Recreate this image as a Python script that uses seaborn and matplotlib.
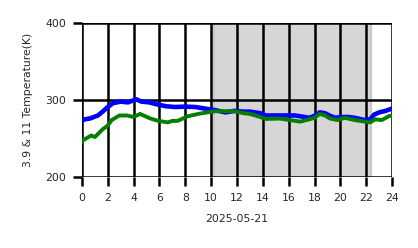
import matplotlib
matplotlib.use("Agg")
import matplotlib.pyplot as plt
import seaborn as sns
import pandas as pd

# data (hours of 2025-05-21, brightness temperature in K)
blue_hours = [0.0, 0.2, 0.6, 1.24, 1.6, 2.0, 2.4, 3.0, 3.56, 4.2, 4.6, 5.2, 5.9, 6.5, 7.2,
              8.0, 8.75, 9.5, 10.3, 11.1, 11.8, 12.5, 13.0, 13.8, 14.2, 15.3, 16.5, 17.6,
              18.0, 18.4, 18.8, 19.2, 19.6, 20.1, 20.6, 21.1, 21.9, 22.3, 22.6, 23.0, 23.5, 24.0]
blue_temp = [273, 275, 276, 280, 285, 291, 296, 298, 297, 301, 298, 297, 294, 292, 291,
             291.5, 291, 289, 287, 284, 286, 285, 285, 283, 280, 280, 280, 277,
             279.5, 284, 283, 279.5, 277, 278, 278, 277, 274, 275, 281, 284, 286, 289]
green_hours = [0.0, 0.1, 0.72, 1.0, 1.24, 1.6, 2.0, 2.3, 2.9, 3.5, 4.0, 4.5, 5.3, 5.9, 6.65,
               7.0, 7.4, 8.2, 9.0, 9.5, 10.3, 11.8, 12.5, 13.0, 13.8, 14.2, 15.3, 16.1, 16.9,
               17.6, 18.0, 18.4, 18.8, 19.2, 19.8, 20.35, 21.1, 21.9, 22.3, 22.7, 23.2, 23.8, 24.0]
green_temp = [246, 248, 254, 252, 256, 262, 267, 274, 280, 280, 278, 282, 276, 273, 271,
              273, 273, 279, 282, 283.5, 285.5, 285.5, 283, 282, 278, 275.5, 276, 274, 272,
              275, 277, 282, 280, 276, 274, 277, 274, 272, 271, 275, 274, 279.5, 280]
shade_span = [10.2, 22.35]
x_ticks = list(range(0, 25, 2))
y_ticks = [200, 300, 400]
x_label = "2025-05-21"
y_label = "3.9 & 11 Temperature(K)"

sns.set_style("white")
plt.rcParams['font.family'] = ['DejaVu Sans']

fig = plt.figure(figsize=(4.18, 2.48), dpi=100)
ax = fig.add_axes([0.196, 0.286, 0.742, 0.621])

ax.axvspan(shade_span[0], shade_span[1], facecolor='#d6d6d6', edgecolor='#c8c8c8', lw=1.5, zorder=0)

df_b = pd.DataFrame({"h": blue_hours, "t": blue_temp})
df_g = pd.DataFrame({"h": green_hours, "t": green_temp})
sns.lineplot(data=df_b, x="h", y="t", color="blue", lw=3.3, ax=ax, zorder=3)
sns.lineplot(data=df_g, x="h", y="t", color="green", lw=2.8, ax=ax, zorder=4)

ax.set_xlim(0, 24)
ax.set_ylim(200, 400)
ax.set_xticks(x_ticks)
ax.set_yticks(y_ticks)
ax.grid(True, color='black', lw=1.8, zorder=2)
ax.set_axisbelow(False)
for s in ax.spines.values():
    s.set_visible(False)
ax.tick_params(axis='both', which='both', direction='out', length=6.5, width=1.8,
               color='black', labelsize=7.8, pad=5, bottom=True, left=True)
ax.set_xlabel(x_label, fontsize=7.8, labelpad=8)
ax.set_ylabel(y_label, fontsize=7.8, labelpad=9)

fig.savefig("out.png", dpi=100)
